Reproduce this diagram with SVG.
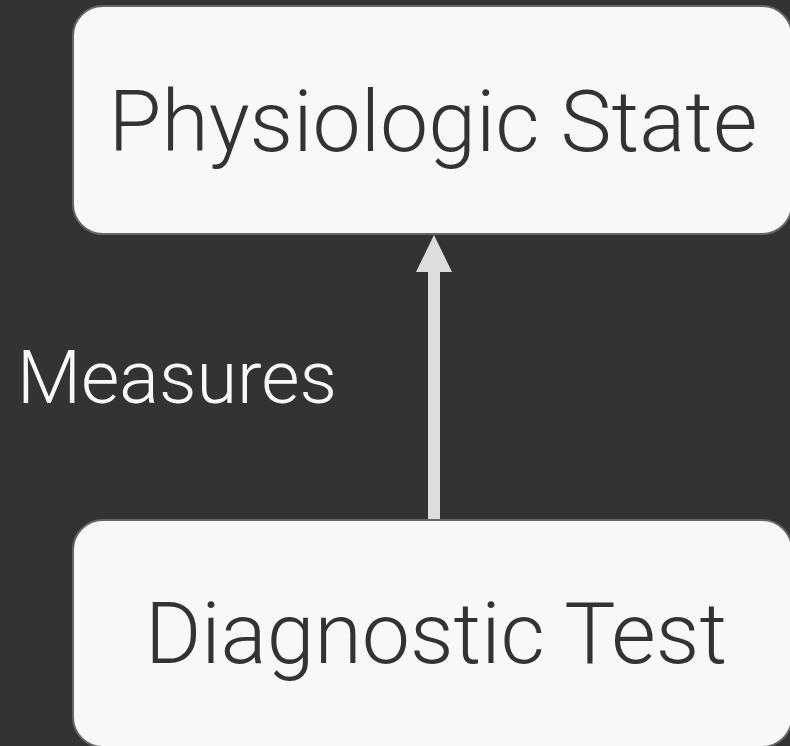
<svg xmlns="http://www.w3.org/2000/svg" width="790" height="746" viewBox="0 0 790 746">
<style>
.node rect{fill:#f8f8f8;stroke:#666;stroke-width:2}
.node text{font-family:Roboto,"Liberation Sans",sans-serif;font-weight:300;fill:#333;text-anchor:middle}
.lbl{font-family:Roboto,"Liberation Sans",sans-serif;font-weight:300;fill:#f8f8f8;font-size:74px}
</style>
<rect x="0" y="0" width="790" height="746" fill="#333"/>
<g id="physiologic-state" class="node">
<rect x="73" y="6" width="719" height="228" rx="30" ry="30"/>
<text x="433" y="151" font-size="86">Physiologic State</text>
</g>
<g id="diagnostic-test" class="node">
<rect x="73" y="520" width="719" height="227" rx="30" ry="30"/>
<text x="436" y="663" font-size="86">Diagnostic Test</text>
</g>
<g id="connectors">
<rect x="428" y="270" width="12" height="249" fill="#ddd"/>
<polygon points="434,235 452,272 416,272" fill="#ddd"/>
<text class="lbl" x="177" y="403" text-anchor="middle">Measures</text>
</g>
</svg>
